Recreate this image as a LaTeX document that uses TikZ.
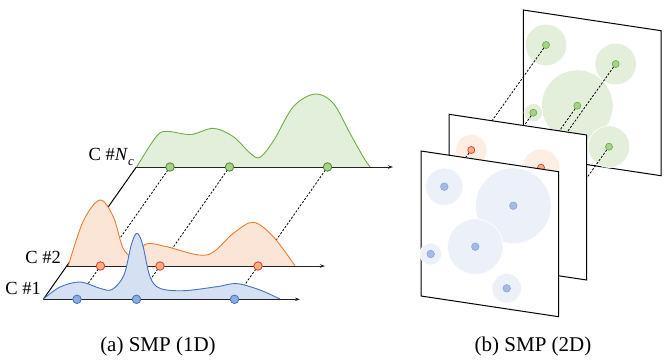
\documentclass[tikz,border=0pt]{standalone}
\usepackage{fontspec}
\setmainfont{Liberation Serif}
\usetikzlibrary{arrows.meta}
\definecolor{gfill}{HTML}{E2EFDA}
\definecolor{gline}{HTML}{70AD47}
\definecolor{ofill}{HTML}{FBE5D6}
\definecolor{oline}{HTML}{ED7D31}
\definecolor{bfill}{HTML}{D6E0F3}
\definecolor{bline}{HTML}{4472C4}
\definecolor{gdotf}{HTML}{A9D18E}
\definecolor{gdotl}{HTML}{548235}
\definecolor{rdotf}{HTML}{F4B183}
\definecolor{rdotl}{HTML}{E8352A}
\definecolor{bdotf}{HTML}{8FAADC}
\definecolor{bdotl}{HTML}{4472C4}
\definecolor{gcirc}{HTML}{E3EFDA}
\definecolor{ocirc}{HTML}{FDEEE4}
\definecolor{bcirc}{HTML}{EBF0F9}
\definecolor{axisc}{HTML}{222222}
\tikzset{
  axisline/.style={draw=axisc, line width=0.9pt, -{Stealth[length=5pt,width=3.5pt]}},
  solidedge/.style={draw=black, line width=1pt},
  dashline/.style={draw=black, line width=0.8pt, dash pattern=on 2.2pt off 1.6pt},
  gcurve/.style={fill=gfill, draw=gline, line width=0.9pt},
  ocurve/.style={fill=ofill, draw=oline, line width=0.9pt},
  bcurve/.style={fill=bfill, draw=bline, line width=0.9pt},
  gdot/.style={circle, inner sep=0pt, minimum size=8.5pt, fill=gdotf, draw=gdotl, line width=0.8pt},
  rdot/.style={circle, inner sep=0pt, minimum size=8.5pt, fill=rdotf, draw=rdotl, line width=0.8pt},
  bdot/.style={circle, inner sep=0pt, minimum size=8.5pt, fill=bdotf, draw=bdotl, line width=0.8pt},
  sgdot/.style={circle, inner sep=0pt, minimum size=7pt, fill=gdotf, draw=gline, line width=0.7pt},
  srdot/.style={circle, inner sep=0pt, minimum size=7pt, fill=rdotf, draw=rdotl, line width=0.7pt},
  sbdot/.style={circle, inner sep=0pt, minimum size=7.5pt, fill=bdotf!80!white, draw=bdotf, line width=0.7pt},
  gblob/.style={fill=gcirc, draw=white, line width=0.6pt},
  oblob/.style={fill=ocirc, draw=white, line width=0.6pt},
  bblob/.style={fill=bcirc, draw=white, line width=0.6pt},
  plane/.style={fill=white, draw=black, line width=1pt},
  lbl/.style={inner sep=0pt, font=\fontsize{18.5}{20}\selectfont},
  captext/.style={inner sep=0pt, font=\fontsize{21}{24}\selectfont},
}
\begin{document}
\begin{tikzpicture}[x=1pt,y=-1pt]
\useasboundingbox (0,0) rectangle (666,360);

% ---------- (a) SMP (1D) ----------
\coordinate (s1) at (43.3,299.3);
\coordinate (s2) at (66.8,266);
\coordinate (sN) at (136.3,167);
\coordinate (e1) at (300,299.3);
\coordinate (e2) at (325,266);
\coordinate (eN) at (393,167);
\coordinate (b1) at (77,299.3);
\coordinate (b2) at (136.5,299.3);
\coordinate (b3) at (234.5,299.3);
\coordinate (r1) at (100.5,266);
\coordinate (r2) at (160,266);
\coordinate (r3) at (258,266);
\coordinate (g1) at (170,167);
\coordinate (g2) at (229.5,167);
\coordinate (g3) at (327.5,167);

% green curve (C #Nc)
\filldraw[gcurve] plot[smooth, tension=0.55] coordinates {(136.7,166.9) (156.7,136) (168,131.5) (191,134.5) (213.3,128.3) (233.3,136.7) (250,153) (260,157.3) (274,140) (293.3,106.7) (315,94) (333.3,103.3) (350,133.3) (363.3,157) (370,166.9)};
\draw[axisline] (sN) -- (eN);
\node[lbl, anchor=base east] (lN) at (134,160) {C \#\textit{N}\raisebox{-0.28em}{\fontsize{13}{13}\selectfont\textit{c}}};

% connectors back layer
\draw[solidedge] (s1) -- (sN);
\draw[dashline] (g1) -- (r1);
\draw[dashline] (g2) -- (r2);
\draw[dashline] (g3) -- (r3);

% orange curve (C #2)
\filldraw[ocurve] plot[smooth, tension=0.55] coordinates {(68.3,265.8) (83.3,221) (100,200) (113.3,216.7) (123,248) (133,256) (146.7,243.8) (166.7,246.7) (206.7,255) (233.3,233.3) (253.3,222.3) (273.3,236.7) (295,265.8)};
\draw[axisline] (s2) -- (e2);
\node[lbl, anchor=base east] (l2) at (61,263) {C \#2};

\draw[dashline] (r1) -- (b1);
\draw[dashline] (r2) -- (b2);
\draw[dashline] (r3) -- (b3);

% blue curve (C #1)
\filldraw[bcurve] plot[smooth, tension=0.55] coordinates {(43.3,299.1) (60,287) (80,282) (100,288.3) (112,289.5) (124,275) (131.5,244) (137,233.3) (142.5,244) (150,276.7) (160,288.3) (183.3,290.7) (216.7,286.7) (236.7,283.6) (260,290) (280,299.1)};
\draw[axisline] (s1) -- (e1);
\node[lbl, anchor=base east] (l1) at (41,294) {C \#1};

% dots
\foreach \n in {g1,g2,g3} \node[gdot] (d\n) at (\n) {};
\foreach \n in {r1,r2,r3} \node[rdot] (d\n) at (\n) {};
\foreach \n in {b1,b2,b3} \node[bdot] (d\n) at (\n) {};

\node[captext, anchor=base] (capa) at (158,351) {(a) SMP (1D)};

% ---------- (b) SMP (2D) ----------
% back plane
\draw[plane] (523.3,10) -- ++(137.7,20.7) -- ++(0,145) -- ++(-137.7,-20.7) -- cycle;
\fill[gblob] (546,45) circle (20.8);
\fill[gblob] (615.7,64) circle (20.8);
\fill[gblob] (577.3,105.7) circle (35.8);
\fill[gblob] (533.3,112.7) circle (9.3);
\fill[gblob] (609,146.7) circle (20.8);
\coordinate (G1) at (546,45);
\coordinate (G2) at (615.7,64);
\coordinate (G3) at (577.3,105.7);
\coordinate (G4) at (533.3,112.7);
\coordinate (G5) at (609,146.7);
\coordinate (G1p) at (471.7,149.3);
\coordinate (G2p) at (541.4,168.3);
\coordinate (G3p) at (503,210);
\coordinate (G4p) at (459,217);
\coordinate (G5p) at (534.7,251);
\foreach \n in {1,...,5} \draw[dashline] (G\n) -- (G\n p);
\foreach \n in {1,...,5} \node[sgdot] (dG\n) at (G\n) {};

% middle plane
\draw[plane] (449,114.3) -- ++(137.7,20.7) -- ++(0,145) -- ++(-137.7,-20.7) -- cycle;
\fill[oblob] (471.3,150) circle (15.7);
\fill[oblob] (541,167.7) circle (18.7);
\coordinate (R1) at (471.3,150);
\coordinate (R2) at (541,167.7);
\coordinate (R1p) at (443.3,186.7);
\coordinate (R2p) at (513,204.4);
\draw[dashline] (R1) -- (R1p);
\draw[dashline] (R2) -- (R2p);
\node[srdot] (dR1) at (R1) {};
\node[srdot] (dR2) at (R2) {};

% front plane
\draw[plane] (421,151) -- ++(137.7,20.7) -- ++(0,145) -- ++(-137.7,-20.7) -- cycle;
\fill[bblob] (513.3,205.7) circle (37.8);
\fill[bblob] (444.3,186.7) circle (18.7);
\fill[bblob] (475.3,246.7) circle (27.8);
\fill[bblob] (430.7,254) circle (11);
\fill[bblob] (506.7,288.3) circle (14.7);
\node[sbdot] (B1) at (444.3,186.7) {};
\node[sbdot] (B2) at (513.3,205.7) {};
\node[sbdot] (B3) at (475.3,246.7) {};
\node[sbdot] (B4) at (430.7,254) {};
\node[sbdot] (B5) at (506.7,288.3) {};

\node[captext, anchor=base] (capb) at (533,351) {(b) SMP (2D)};
\end{tikzpicture}
\end{document}
